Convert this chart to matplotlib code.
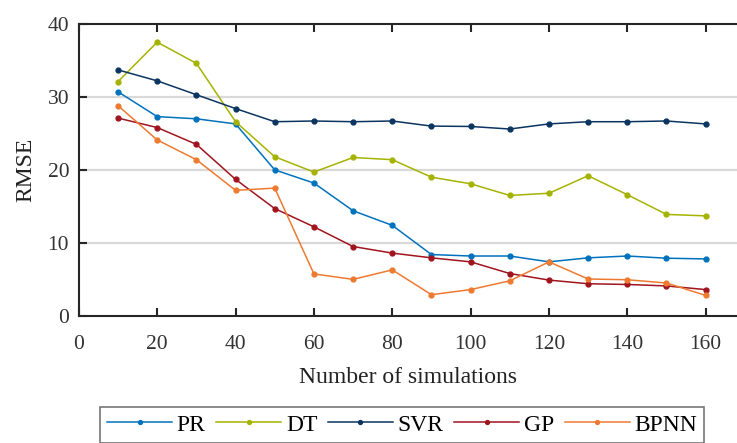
import numpy as np
import matplotlib
matplotlib.use('Agg')
import matplotlib.pyplot as plt

plt.rcParams['font.family'] = ['Liberation Serif', 'DejaVu Serif']

# RMSE against the number of simulations for each model
n_sim = [10, 20, 30, 40, 50, 60, 70, 80, 90, 100, 110, 120, 130, 140, 150, 160]
pr   = [30.7, 27.3, 27.0, 26.3, 20.0, 18.2, 14.4, 12.4, 8.4, 8.2, 8.2, 7.4, 7.95, 8.2, 7.9, 7.8]
dt   = [32.1, 37.5, 34.6, 26.6, 21.8, 19.7, 21.7, 21.4, 19.0, 18.1, 16.5, 16.8, 19.2, 16.6, 13.9, 13.7]
svr  = [33.7, 32.2, 30.3, 28.4, 26.6, 26.7, 26.6, 26.7, 26.0, 25.95, 25.6, 26.3, 26.6, 26.6, 26.7, 26.3]
gp   = [27.1, 25.8, 23.5, 18.7, 14.7, 12.2, 9.5, 8.6, 7.95, 7.4, 5.8, 4.9, 4.4, 4.3, 4.1, 3.6]
bpnn = [28.8, 24.1, 21.4, 17.2, 17.5, 5.75, 5.0, 6.3, 2.9, 3.6, 4.8, 7.4, 5.05, 4.95, 4.5, 2.8]

names = ['PR', 'DT', 'SVR', 'GP', 'BPNN']
series = [pr, dt, svr, gp, bpnn]
colors = ['#0072BD', '#A5B300', '#0B3560', '#A0141E', '#EE7A30']

fig = plt.figure(figsize=(7.37, 4.43), dpi=100)
ax = fig.add_axes([0.107, 0.287, 0.893, 0.659])

for name, vals, c in zip(names, series, colors):
    ax.plot(n_sim, vals, '-o', color=c, lw=1.1, ms=3.5, label=name)

ax.set_xlim(0, 168)
ax.set_ylim(0, 40)
ax.set_xticks(np.arange(0, 161, 20))
ax.set_yticks([0, 10, 20, 30, 40])
for yv in [10, 20, 30]:
    ax.axhline(yv, color='#d9d9d9', lw=1.6, zorder=0)

ax.spines['right'].set_visible(False)
for s in ['left', 'bottom', 'top']:
    ax.spines[s].set_color('#262626')
    ax.spines[s].set_linewidth(1.5)
ax.tick_params(direction='in', length=6, width=1.5, color='#262626',
               top=True, labelsize=15.5, labelcolor='#333333')
ax.tick_params(axis='x', pad=14)
ax.tick_params(axis='y', pad=7)

ax.set_xlabel('Number of simulations', fontsize=17, color='#222222', labelpad=9)
ax.set_ylabel('RMSE', fontsize=17, color='#222222', labelpad=8)

leg = fig.legend(loc='upper left', bbox_to_anchor=(0.1357, 0.0813), ncol=5,
                 fontsize=17, frameon=True, fancybox=False, handlelength=2.75,
                 columnspacing=0.45, handletextpad=0.2, borderpad=0.3,
                 borderaxespad=0, markerscale=0.8)
leg.get_frame().set_edgecolor('#555555')
leg.get_frame().set_linewidth(1.2)

fig.savefig('out.png', dpi=100)
